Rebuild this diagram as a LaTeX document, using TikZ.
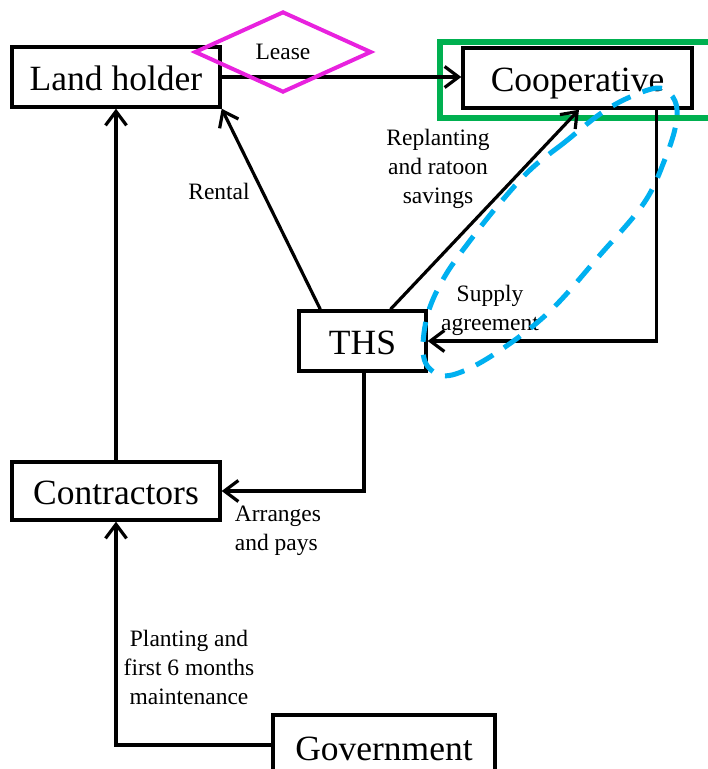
\documentclass[tikz,border=0pt]{standalone}
\usepackage{fontspec}
\setmainfont{Liberation Serif}
\usetikzlibrary{arrows.meta,shapes.geometric}
\definecolor{lmag}{RGB}{232,34,222}
\definecolor{lgreen}{RGB}{0,176,80}
\definecolor{lcyan}{RGB}{0,176,240}
\begin{document}
\begin{tikzpicture}[x=1pt,y=-1pt,
  box/.style={draw,line width=3.4pt,inner sep=0pt,minimum height=60pt,
    text height=26pt,text depth=0pt,font=\fontsize{35.5}{40}\selectfont},
  lbl/.style={font=\fontsize{23.5}{29}\selectfont,align=center,inner sep=0pt},
  arr/.style={line width=3.2pt,-{Straight Barb[length=14pt,width=21pt]}}]
\useasboundingbox (0,0) rectangle (708,769);
% green highlight
\draw[lgreen,line width=6.5pt] (440,42) rectangle (740,118);
% nodes
\node[box,minimum width=208pt] (lh) at (116,77) {Land holder};
\node[box,minimum width=229pt] (coop) at (577.5,78) {Cooperative};
\node[box,minimum width=127pt] (ths) at (362.5,341) {THS};
\node[box,minimum width=208pt,minimum height=58pt] (con) at (116,491) {Contractors};
\node[box,minimum width=222pt,minimum height=64pt] (gov) at (384,747) {Government};
% connectors
\draw[arr] (lh.east) -- (lh.east -| coop.west);
\draw[arr] ([xshift=23pt]ths.north west) -- (lh.south east);
\draw[arr] ([xshift=28pt]ths.north) -- ([xshift=1.5pt]coop.south);
\draw[arr] ([xshift=-37pt]coop.south east) |- (ths.east);
\draw[arr] ([xshift=1.5pt]ths.south) |- (con.east);
\draw[arr] (con.north) -- (lh.south);
\draw[arr] ([yshift=2pt]gov.west) -| (con.south);
% lease diamond
\node[draw=lmag,line width=4pt,shape=diamond,minimum width=177pt,minimum height=81pt,
  inner sep=0pt,font=\fontsize{23.5}{29}\selectfont] (lease) at (283,52) {Lease};
% labels
\node[lbl] (lrental) at (219,191) {Rental};
\node[lbl] (lrepl) at (438,169) {Replanting\\and ratoon\\savings};
\node[lbl] (lsupply) at (490,310) {Supply\\agreement};
\node[lbl,align=left] (larr) at (278,531) {Arranges\\and pays};
\node[lbl] (lplant) at (189,667) {Planting and\\first 6 months\\maintenance};
% blue dashed loop
\draw[lcyan,line width=5pt,dash pattern=on 20pt off 13pt]
  plot[smooth cycle,tension=0.6] coordinates {
  (600,114) (565,142) (531,169) (500,203) (472,238) (445,276) (428,313)
  (423,351) (431,370) (452,375) (493,355) (548,313) (600,255) (644,203)
  (665,159) (676,124) (675,101) (660,88) (630,97)};
\end{tikzpicture}
\end{document}
